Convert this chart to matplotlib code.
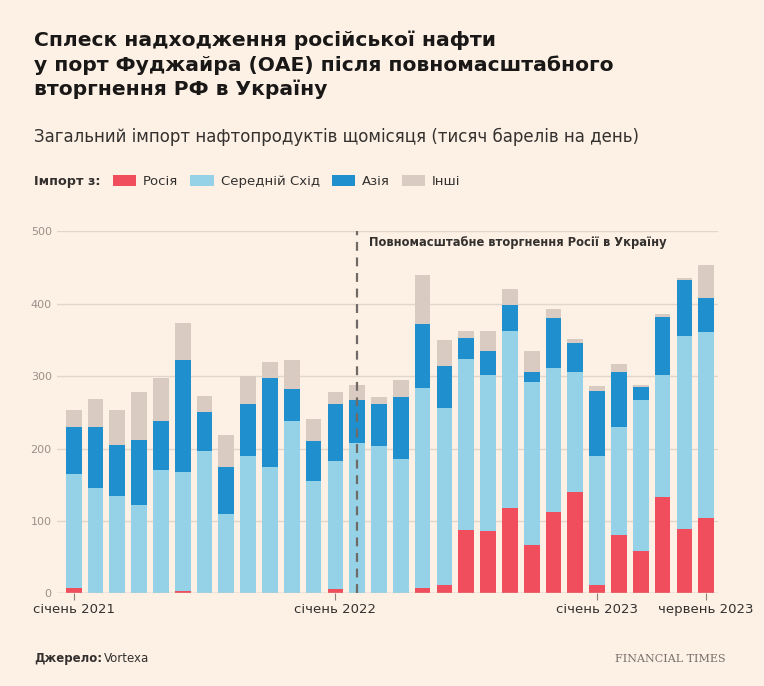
import matplotlib.pyplot as plt
import numpy as np

# cumulative tops (thousand barrels per day)
russia = [8, 0, 0, 0, 0, 3, 0, 0, 0, 0, 0, 0, 6, 0, 0, 0, 8, 12, 87, 86,
          118, 67, 113, 140, 11, 80, 58, 133, 89, 104]
mideast_top = [165, 145, 134, 122, 170, 168, 197, 110, 190, 175, 238, 155, 183, 208, 203,
               186, 283, 256, 324, 302, 362, 292, 311, 306, 190, 229, 267, 301, 355, 361]
asia_top = [229, 229, 205, 212, 238, 322, 251, 175, 262, 298, 282, 210, 262, 267, 262,
            271, 372, 314, 352, 335, 398, 306, 380, 345, 280, 306, 285, 381, 433, 408]
total = [253, 269, 253, 278, 297, 373, 273, 219, 300, 319, 322, 241, 278, 288, 271,
         295, 440, 350, 362, 362, 420, 335, 393, 351, 286, 317, 288, 385, 436, 453]
tick_pos = [0, 12, 24, 29]
tick_labels = ["січень 2021", "січень 2022", "січень 2023", "червень 2023"]

russia = np.array(russia)
mideast = np.array(mideast_top) - russia
asia = np.array(asia_top) - np.array(mideast_top)
other = np.array(total) - np.array(asia_top)

bg = "#fdf1e6"
c_ru, c_me, c_as, c_ot = "#f04e5c", "#96d2e7", "#1f8fcd", "#d9cbc2"

fig = plt.figure(figsize=(7.64, 6.86), dpi=100, facecolor=bg)
ax = fig.add_axes([0.075, 0.135, 0.865, 0.528], facecolor=bg)
x = np.arange(len(russia))
w = 0.72
ax.bar(x, russia, w, color=c_ru, label="Росія")
ax.bar(x, mideast, w, bottom=russia, color=c_me, label="Середній Схід")
ax.bar(x, asia, w, bottom=russia + mideast, color=c_as, label="Азія")
ax.bar(x, other, w, bottom=russia + mideast + asia, color=c_ot, label="Інші")

ax.set_ylim(0, 500)
ax.set_xlim(-0.75, 29.55)
ax.set_yticks(range(0, 501, 100))
ax.grid(axis="y", color="#e0d6cc", lw=1)
ax.set_axisbelow(True)
for s in ax.spines.values():
    s.set_visible(False)
ax.tick_params(axis="y", length=0, labelsize=8, labelcolor="#9a9089", pad=4)
ax.set_xticks(tick_pos)
ax.set_xticklabels(tick_labels, fontsize=9.5, color="#33302e")
ax.tick_params(axis="x", length=5, color="#8a827c", pad=2)
ax.axhline(0, color="#cfc5bc", lw=1)

ax.axvline(13.0, color="#706a66", ls=(0, (4, 3)), lw=1.6)
ax.text(13.55, 485, "Повномасштабне вторгнення Росії в Україну", fontsize=8.3,
        fontweight="bold", color="#33302e", va="center")

fig.text(0.045, 0.955, "Сплеск надходження російської нафти\nу порт Фуджайра (ОАЕ) після повномасштабного\nвторгнення РФ в Україну",
         fontsize=14.6, fontweight="bold", color="#1a1817", va="top", linespacing=1.3)
fig.text(0.045, 0.8, "Загальний імпорт нафтопродуктів щомісяця (тисяч барелів на день)",
         fontsize=12.0, color="#33302e", va="center")
fig.text(0.045, 0.735, "Імпорт з:", fontsize=9.2, fontweight="bold", color="#33302e", va="center")
fig.legend(loc="center left", bbox_to_anchor=(0.132, 0.735), ncol=4, frameon=False,
           fontsize=9.5, handlelength=1.8, handleheight=0.9, columnspacing=0.9,
           handletextpad=0.5, labelcolor="#33302e")

fig.text(0.045, 0.04, "Джерело:", fontsize=8.5, fontweight="bold", color="#33302e", va="center")
fig.text(0.136, 0.04, "Vortexa", fontsize=8.5, color="#33302e", va="center")
fig.text(0.95, 0.04, "FINANCIAL TIMES", fontsize=8, family="serif", color="#77706b",
         ha="right", va="center")

fig.savefig("out.png", dpi=100, facecolor=bg)
